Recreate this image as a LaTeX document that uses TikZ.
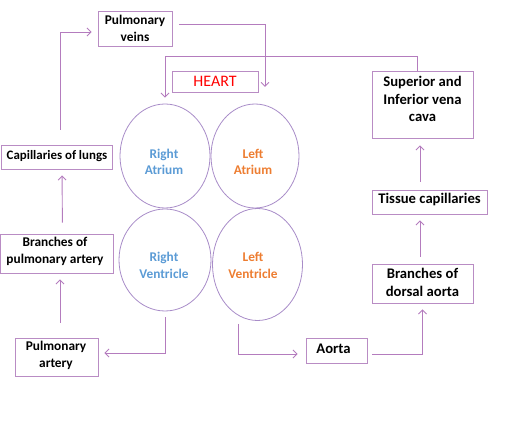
\documentclass[tikz,border=0pt]{standalone}
\usepackage{fontspec}
\setmainfont{Carlito}
\usetikzlibrary{arrows.meta,shapes.geometric}
\definecolor{lnc}{HTML}{B47CBE}
\definecolor{boxc}{HTML}{B98CC4}
\definecolor{ellc}{HTML}{A88CC8}
\definecolor{bluet}{HTML}{5B9BD5}
\definecolor{orat}{HTML}{ED7D31}
\definecolor{heartred}{HTML}{FF0000}
\tikzset{
  big/.style={font=\bfseries\fontsize{14.67}{17.9}\selectfont},
  small/.style={font=\bfseries\fontsize{13.33}{16.3}\selectfont},
  box/.style={draw=boxc, line width=0.9pt, inner sep=0pt, align=center},
  txt/.style={inner sep=0pt, align=center},
  chamber/.style={draw=ellc, line width=0.8pt, ellipse, inner sep=0pt},
  arr/.style={draw=lnc, line width=0.9pt, -{Straight Barb[length=4pt,width=8pt]}},
}
\begin{document}
\begin{tikzpicture}[x=1pt,y=-1pt]
\useasboundingbox (0,0) rectangle (512,435);
% boxes
\node[box, small, minimum width=74, minimum height=35] (pv) at (135,28.5) {Pulmonary\\veins};
\node[box, minimum width=86, minimum height=21, font=\fontsize{16}{19}\selectfont, text=heartred] (heart) at (215,81.5) {HEART};
\node[box, minimum width=101, minimum height=67] (vc) at (422.5,104.5) {};
\node[txt, big] (vct) at (422.5,99) {Superior and\\Inferior vena\\cava};
\node[box, minimum width=111, minimum height=24] (cap) at (56.5,157) {};
\node[txt, font=\bfseries\fontsize{12.9}{15.5}\selectfont] (capt) at (57,156) {Capillaries of lungs};
\node[box, minimum width=115, minimum height=24] (tc) at (429.5,202) {};
\node[txt, big] (tct) at (429.5,200) {Tissue capillaries};
\node[box, minimum width=113, minimum height=39] (bpa) at (57,253.5) {};
\node[txt, small] (bpat) at (55,251.5) {Branches of\\pulmonary artery};
\node[box, minimum width=101, minimum height=39] (bda) at (422.5,283.5) {};
\node[txt, big] (bdat) at (422.5,282.5) {Branches of\\dorsal aorta};
\node[box, minimum width=83, minimum height=38] (pa) at (56.5,357) {};
\node[txt, small] (pat) at (56,355.5) {Pulmonary\\artery};
\node[box, minimum width=61, minimum height=25] (aorta) at (336.5,350.5) {};
\node[txt, big] (aortat) at (333.5,349) {Aorta};
% chambers
\node[chamber, minimum width=90, minimum height=104] (ra) at (165,156) {};
\node[chamber, minimum width=88, minimum height=104] (la) at (255,156) {};
\node[chamber, minimum width=92, minimum height=102] (rv) at (165,260) {};
\node[chamber, minimum width=90, minimum height=112] (lv) at (257.5,264.5) {};
\node[txt, small, text=bluet] (rat) at (164,162) {Right\\Atrium};
\node[txt, small, text=orat] (lat) at (253,162) {Left\\Atrium};
\node[txt, small, text=bluet] (rvt) at (164,265.5) {Right\\Ventricle};
\node[txt, small, text=orat] (lvt) at (253,265.5) {Left\\Ventricle};
% coordinates
\coordinate (c1) at (265,87);
\coordinate (c2) at (165,56);
% connectors
\draw[arr, shorten <=15pt, shorten >=6pt] ([xshift=4pt]cap.north) |- ([yshift=-3.5pt]pv.west);
\draw[arr, shorten <=7pt] ([yshift=4.5pt]pv.east) -| (c1);
\draw[arr, shorten >=6pt] ([xshift=-5.5pt]vc.north) |- (c2) -- (ra.north);
\draw[arr, shorten <=11pt, shorten >=6pt] ([xshift=5.5pt]bpa.north) -- ([xshift=5.5pt]cap.south);
\draw[arr, shorten <=15pt, shorten >=6pt] ([xshift=3.5pt]pa.north) -- ([xshift=3pt]bpa.south);
\draw[arr, shorten <=6pt, shorten >=6pt] (rv.south) |- ([yshift=4pt]pa.east);
\draw[arr, shorten >=8pt] ([xshift=-19.5pt,yshift=-3pt]lv.south) |- ([yshift=-3.5pt]aorta.west);
\draw[arr, shorten <=5pt, shorten >=6pt] ([yshift=-3.5pt]aorta.east) -| (bda.south);
\draw[arr, shorten <=7pt, shorten >=6pt] ([xshift=-2.5pt]bda.north) -- ([xshift=-2.5pt]bda.north |- tc.south);
\draw[arr, shorten <=8pt, shorten >=7pt] ([xshift=-2.5pt]bda.north |- tc.north) -- ([xshift=-2.5pt]bda.north |- vc.south);
\end{tikzpicture}
\end{document}
